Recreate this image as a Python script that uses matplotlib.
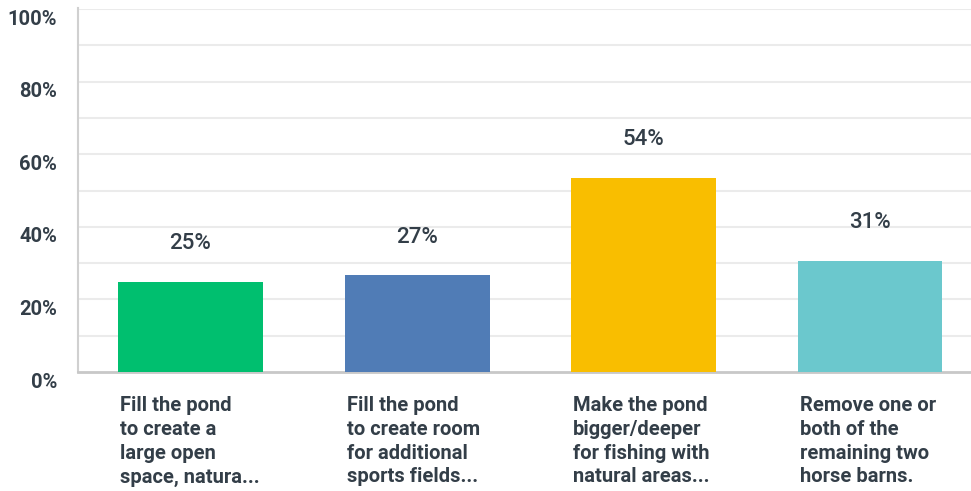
import matplotlib.pyplot as plt
import matplotlib.transforms as mtransforms

categories = [
    "Fill the pond\nto create a\nlarge open\nspace, natura...",
    "Fill the pond\nto create room\nfor additional\nsports fields...",
    "Make the pond\nbigger/deeper\nfor fishing with\nnatural areas...",
    "Remove one or\nboth of the\nremaining two\nhorse barns.",
]
values = [24.8, 26.7, 53.5, 30.6]
value_labels = ["25%", "27%", "54%", "31%"]
colors = ["#00BF6F", "#507CB6", "#F9BE00", "#6BC8CD"]
yticks = [0, 20, 40, 60, 80, 100]

text_color = "#333E48"
plt.rcParams['font.family'] = ['Roboto', 'DejaVu Sans']

fig = plt.figure(figsize=(9.71, 4.91), dpi=100)
ax = fig.add_axes([78 / 971, 119 / 491, 1 - 78 / 971, 363 / 491])

x = range(len(values))
bar_w = 0.64
ax.bar(x, values, width=bar_w, color=colors, zorder=3)

# gridlines every 10%
for g in range(10, 101, 10):
    ax.axhline(g, color="#EBEBEB", lw=1.5, zorder=1)

ax.set_xlim(-0.497, 3.446)
ax.set_ylim(0, 100)

# value labels above bars
for i, v in enumerate(values):
    ax.annotate(value_labels[i], (i, v), xytext=(0, 38), textcoords="offset pixels",
                ha="center", va="center", fontsize=16, fontweight="medium",
                color=text_color)

# category labels, left aligned under each bar
for i, c in enumerate(categories):
    ax.annotate(c, (i - bar_w / 2, 0), xytext=(2, -24), textcoords="offset pixels",
                ha="left", va="top", fontsize=14.5, fontweight="bold",
                color=text_color, linespacing=1.32, annotation_clip=False)

ax.set_xticks([])
ax.set_yticks(yticks)
ax.set_yticklabels([f"{t}%" for t in yticks], fontsize=14.5, fontweight="bold",
                   color=text_color)
ax.tick_params(axis="y", length=0, pad=15)
offset = mtransforms.ScaledTranslation(0, -8 / 100, fig.dpi_scale_trans)
for lab in ax.get_yticklabels():
    lab.set_transform(lab.get_transform() + offset)

for s in ["top", "right"]:
    ax.spines[s].set_visible(False)
ax.spines["left"].set_color("#D0D0D0")
ax.spines["left"].set_linewidth(1.5)
ax.spines["left"].set_bounds(0, 100.3)
ax.spines["bottom"].set_color("#C8C8C8")
ax.spines["bottom"].set_linewidth(2)

fig.savefig("out.png", dpi=100)
